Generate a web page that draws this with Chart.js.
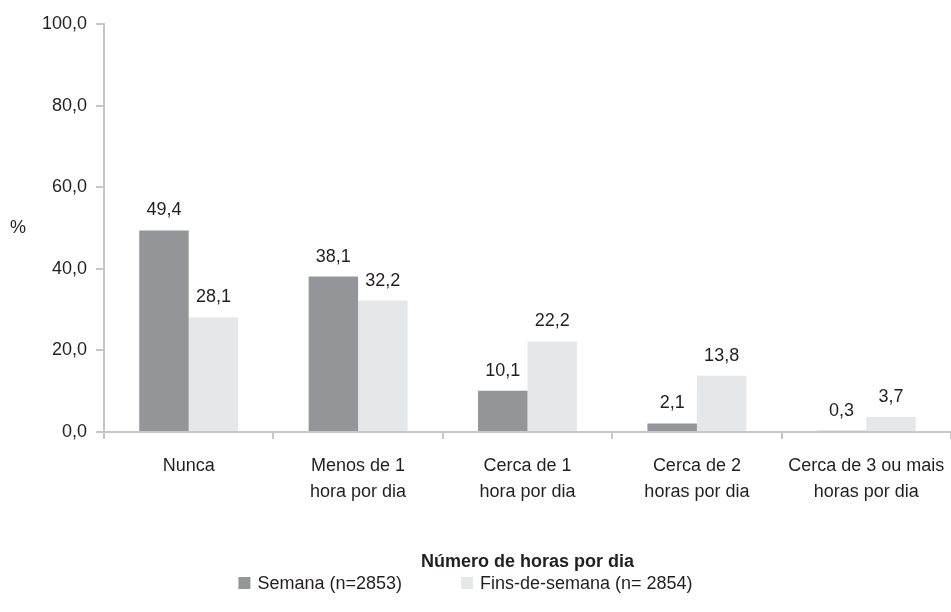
<!DOCTYPE html>
<html>
<head>
<meta charset="utf-8">
<script src="https://cdn.jsdelivr.net/npm/chart.js@4/dist/chart.umd.min.js"></script>
<style>
  html, body { margin: 0; padding: 0; background: #fff; }
  #wrap { width: 951px; height: 612px; position: relative; }
</style>
</head>
<body>
<div id="wrap"><canvas id="chart" width="951" height="612"></canvas></div>
<script>
const categories = [
  ["Nunca"],
  ["Menos de 1", "hora por dia"],
  ["Cerca de 1", "hora por dia"],
  ["Cerca de 2", "horas por dia"],
  ["Cerca de 3 ou mais", "horas por dia"],
];
const semana = [49.4, 38.1, 10.1, 2.1, 0.3];
const finsDeSemana = [28.1, 32.2, 22.2, 13.8, 3.7];
const seriesLabels = ["Semana (n=2853)", "Fins-de-semana (n= 2854)"];
const yTicks = { min: 0, max: 100, step: 20 };

const FONT = "'Liberation Sans', Arial, sans-serif";
const TEXT = "#231f20";
const AXIS = "#c6c7c9";
const DARK = "#939598";
const LIGHT = "#e6e7e8";

const fmt = (v) => v.toFixed(1).replace(".", ",");

// value labels above bars, the "%" title and the legend
const extras = {
  id: "extras",
  afterDatasetsDraw(chart) {
    const ctx = chart.ctx;
    ctx.save();
    ctx.font = `18px ${FONT}`;
    ctx.fillStyle = TEXT;
    ctx.textAlign = "center";
    ctx.textBaseline = "alphabetic";
    chart.data.datasets.forEach((ds, i) => {
      chart.getDatasetMeta(i).data.forEach((bar, j) => {
        ctx.fillText(fmt(ds.data[j]), bar.x, bar.y - 15);
      });
    });

    const area = chart.chartArea;
    ctx.textBaseline = "middle";
    ctx.fillText("%", 18, (area.top + area.bottom) / 2);

    // legend
    const gap = 7;
    const box = 12;
    const spacing = 59;
    const widths = seriesLabels.map((l) => box + gap + ctx.measureText(l).width);
    const total = widths[0] + spacing + widths[1];
    let x = chart.width / 2 - 10 - total / 2;
    const y = 583;
    ctx.textAlign = "left";
    chart.data.datasets.forEach((ds, i) => {
      ctx.fillStyle = ds.backgroundColor;
      ctx.fillRect(x, y - box / 2, box, box);
      ctx.fillStyle = TEXT;
      ctx.fillText(seriesLabels[i], x + box + gap, y + 1);
      x += widths[i] + spacing;
    });
    ctx.restore();
  },
};

new Chart(document.getElementById("chart"), {
  type: "bar",
  data: {
    labels: categories,
    datasets: [
      {
        label: seriesLabels[0],
        data: semana,
        backgroundColor: DARK,
        barPercentage: 1,
        categoryPercentage: 0.584,
      },
      {
        label: seriesLabels[1],
        data: finsDeSemana,
        backgroundColor: LIGHT,
        barPercentage: 1,
        categoryPercentage: 0.584,
      },
    ],
  },
  options: {
    responsive: false,
    animation: false,
    layout: { padding: { top: 24, right: -4, left: 0, bottom: 0 } },
    plugins: {
      legend: { display: false },
      tooltip: { enabled: false },
    },
    scales: {
      x: {
        border: { color: AXIS, width: 2 },
        grid: {
          offset: true,
          drawOnChartArea: false,
          color: AXIS,
          lineWidth: 2,
          tickLength: 7,
        },
        ticks: {
          color: TEXT,
          padding: 14,
          font: { family: FONT, size: 18, lineHeight: 1.444 },
          maxRotation: 0,
          autoSkip: false,
        },
        title: {
          display: true,
          text: "Número de horas por dia",
          color: TEXT,
          font: { family: FONT, size: 18, weight: "bold", lineHeight: 1.2 },
          padding: { top: 0, bottom: 39 },
        },
        afterFit(scale) {
          scale.height = 180;
          scale.paddingRight = -4;
        },
      },
      y: {
        min: yTicks.min,
        max: yTicks.max,
        border: { color: AXIS, width: 2 },
        grid: {
          drawOnChartArea: false,
          color: AXIS,
          lineWidth: 2,
          tickLength: 8,
        },
        ticks: {
          stepSize: yTicks.step,
          color: TEXT,
          padding: 9,
          font: { family: FONT, size: 18 },
          callback: (v) => fmt(v),
        },
        afterFit(scale) {
          scale.width = 104;
        },
      },
    },
  },
  plugins: [extras],
});
</script>
</body>
</html>
